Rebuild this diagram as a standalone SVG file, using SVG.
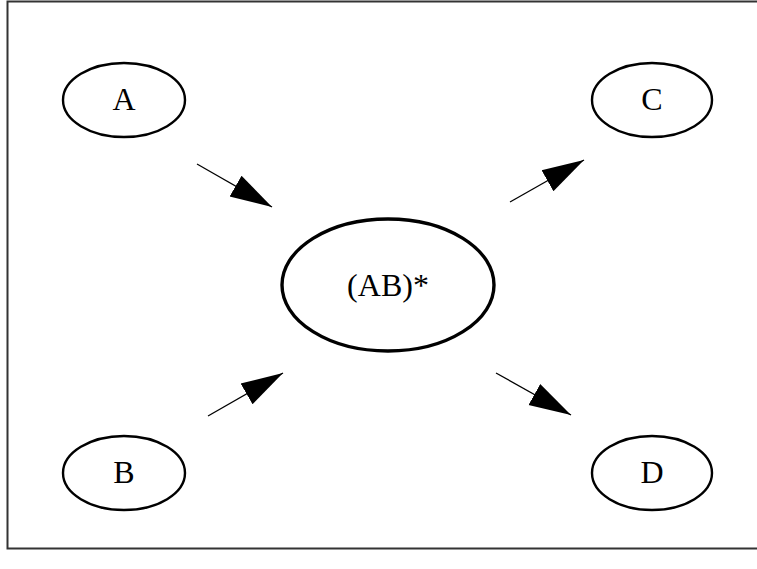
<svg xmlns="http://www.w3.org/2000/svg" width="757" height="569" viewBox="0 0 757 569">
<defs>
<style>
.node ellipse{fill:#fff;stroke:#000;stroke-width:2.4}
.edge{stroke:#000;stroke-width:1.3;fill:none;marker-end:url(#ah)}
</style>
<marker id="ah" markerUnits="userSpaceOnUse" markerWidth="46" markerHeight="32" viewBox="0 0 46 32" refX="42" refY="16" orient="auto">
<path d="M0,4 L42,16 L0,28 Z" fill="#000"/>
</marker>
</defs>
<rect x="0" y="0" width="757" height="569" fill="#fff"/>
<path d="M760,1.5 H7.5 V548.5 H760" fill="none" stroke="#333" stroke-width="2"/>
<g id="connectors">
<line class="edge" x1="197" y1="164" x2="272" y2="207"/>
<line class="edge" x1="510" y1="202" x2="584" y2="160"/>
<line class="edge" x1="208" y1="416" x2="283" y2="373"/>
<line class="edge" x1="496" y1="373" x2="571" y2="415"/>
</g>
<g font-family="Liberation Serif, serif" font-size="32" text-anchor="middle" fill="#000">
<g id="A" class="node"><ellipse cx="124" cy="100" rx="61" ry="37"/><text x="124" y="110">A</text></g>
<g id="C" class="node"><ellipse cx="652" cy="100" rx="60" ry="37"/><text x="652" y="110">C</text></g>
<g id="B" class="node"><ellipse cx="124" cy="473" rx="61" ry="37"/><text x="124" y="483">B</text></g>
<g id="D" class="node"><ellipse cx="652" cy="473" rx="60" ry="37"/><text x="652" y="483">D</text></g>
<g id="AB" class="node"><ellipse cx="388" cy="285" rx="106" ry="66" style="stroke-width:3.4"/><text x="388" y="296">(AB)*</text></g>
</g>
</svg>
